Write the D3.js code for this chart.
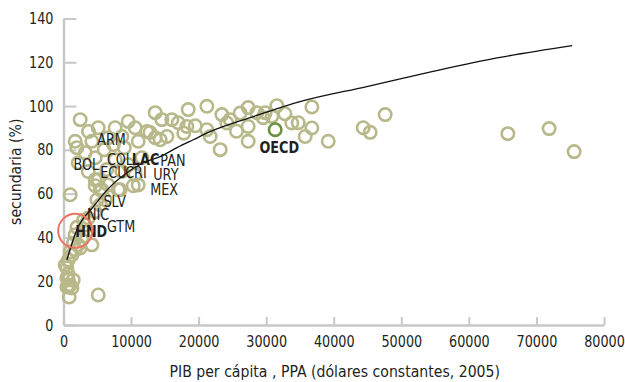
<!DOCTYPE html>
<html>
<head>
<meta charset="utf-8">
<script src="https://cdn.jsdelivr.net/npm/d3@7"></script>
<style>
  body { margin: 0; background: #fff; }
  text { font-family: "DejaVu Sans", sans-serif; }
</style>
</head>
<body>
<script>
const ancho = 625, alto = 382;

// PIB per cápita (USD PPA 2005) y matrícula secundaria (%)
const paisesPib = [840, 990, 500, 1440, 700, 250, 700, 1240, 1730, 2180, 2720, 4200, 5140, 990, 1730, 3210,
  4690, 5680, 6170, 2470, 1730, 3700, 5140, 4200, 6620, 9580, 7650, 10610, 12340, 13570, 14560, 13570,
  11060, 8640, 1980, 3210, 2180, 7650, 11600, 10610, 8640, 3660, 5140, 6620, 11060, 16040, 16980, 18260,
  18460, 21220, 23440, 24670, 26150, 27330, 28620, 27330, 21220, 21710, 23190, 27330, 15300, 14310, 29560,
  24180, 31580, 32770, 30840, 33800, 34740, 36760, 36760, 35770, 39180, 44360, 45390, 47610, 65770, 71880,
  75580, 29850, 4690, 6020, 9580, 8090, 5430, 4690, 3660, 10330, 5430, 4940, 8390, 1980, 1480, 2470,
  990, 500, 500, 1240, 700, 700, 4690, 2960, 7400, 6400, 12800, 17800, 19500, 25600, 9000];
const paisesSec = [12.8, 18.3, 17.4, 20.6, 20.6, 27.4, 29.7, 32, 34.3, 36.6, 38.9, 36.6, 13.7, 59.5, 41.2, 45.7,
  66.3, 61.8, 57.2, 93.8, 83.9, 88.4, 90.1, 83.9, 85.5, 93, 90.1, 90.1, 88.4, 97, 93.8, 85.5,
  83.9, 86.1, 81, 78.7, 74.1, 75.5, 76.4, 68.6, 70.1, 70.1, 66.3, 64, 64, 93.8, 92.4, 90.7,
  98.4, 99.9, 96.1, 93.8, 96.8, 99.3, 97, 90.7, 89.2, 86.1, 80.1, 83.9, 86.1, 84.6, 94.7,
  92.3, 100.2, 96.5, 95.3, 92.3, 92.4, 99.6, 90, 86.1, 83.9, 90.1, 88, 96.1, 87.4, 89.7,
  79.2, 97, 76.4, 80, 73.2, 61.8, 54.9, 51.7, 48.9, 63.6, 61.8, 57.2, 61.8, 44.6, 37.5, 35.2,
  33.4, 26.1, 21.5, 16.9, 17.8, 23.3, 63.6, 47.8, 82.4, 71, 88, 87.6, 91, 88.5, 81];

const oecdPib = [31330], oecdSec = [89.2];
const hndPib = [1730], hndSec = [43];

// curva de tendencia
const tendPib = [500, 1980, 4400, 6900, 9400, 11800, 14300, 16800, 19200, 21700, 28100, 35000, 44900, 54700, 64600, 75300];
const tendSec = [29.7, 43.5, 54, 63.1, 69.5, 74.1, 76.9, 81, 84.6, 88.3, 95.2, 102, 108.9, 115.8, 122.2, 127.6];

const etiquetas = ["ARM", "COL", "LAC", "PAN", "BOL", "ECU", "CRI", "URY", "MEX", "SLV", "NIC", "GTM", "HND", "OECD"];
const etiqX = [4990, 6420, 10120, 14330, 1480, 5430, 9130, 13280, 12830, 5920, 3460, 6420, 1730, 29010];
const etiqY = [82.3, 73.2, 73.2, 72.4, 70.9, 67.1, 67.1, 66.3, 59.5, 54.1, 48, 42.7, 40.4, 78.5];
const etiqNegrita = ["LAC", "HND", "OECD"];

const ticksX = [0, 10000, 20000, 30000, 40000, 50000, 60000, 70000, 80000];
const ticksY = [0, 20, 40, 60, 80, 100, 120, 140];

const svg = d3.select("body").append("svg")
  .attr("width", ancho)
  .attr("height", alto);

const x = d3.scaleLinear().domain([0, 80000]).range([63.5, 604]);
const y = d3.scaleLinear().domain([0, 140]).range([325, 18.5]);

// no hay fuente condensada: se estrecha el texto a mano
function condensar(sel, s, giro) {
  sel.each(function () {
    const t = d3.select(this);
    const tx = +t.attr("x") || 0, ty = +t.attr("y") || 0;
    t.attr("x", 0).attr("y", 0)
      .attr("transform", `translate(${tx},${ty})${giro ? " rotate(" + giro + ")" : ""} scale(${s},1)`);
  });
}

// ejes
const ejeX = svg.append("g")
  .attr("transform", `translate(0,${y(0)})`)
  .call(d3.axisBottom(x).tickValues(ticksX).tickFormat(d3.format("d")).tickSizeInner(-8).tickSizeOuter(0).tickPadding(11));

const ejeY = svg.append("g")
  .attr("transform", `translate(${x(0)},0)`)
  .call(d3.axisLeft(y).tickValues(ticksY).tickSizeInner(-13).tickSizeOuter(0).tickPadding(10));

[ejeX, ejeY].forEach(g => {
  g.select(".domain").attr("stroke", "#c8c8c8").attr("stroke-width", 2.5);
  g.selectAll(".tick line").attr("stroke", "#c8c8c8").attr("stroke-width", 2);
  g.selectAll(".tick text").attr("fill", "#231f20").style("font-size", "16px")
    .call(condensar, 0.8);
});

svg.append("text")
  .attr("x", x(40000) + 1)
  .attr("y", 377)
  .attr("text-anchor", "middle")
  .attr("fill", "#231f20")
  .style("font-size", "16px")
  .text("PIB per cápita , PPA (dólares constantes, 2005)")
  .call(condensar, 0.88);

svg.append("text")
  .attr("x", 21)
  .attr("y", y(70))
  .attr("text-anchor", "middle")
  .attr("fill", "#231f20")
  .style("font-size", "16px")
  .text("secundaria (%)")
  .call(condensar, 0.88, -90);

// puntos
svg.append("g").selectAll("circle")
  .data(d3.range(paisesPib.length))
  .join("circle")
  .attr("cx", i => x(paisesPib[i]))
  .attr("cy", i => y(paisesSec[i]))
  .attr("r", 6.2)
  .attr("fill", "none")
  .attr("stroke", "#b8b88a")
  .attr("stroke-width", 2.6);

svg.append("circle")
  .attr("cx", x(oecdPib[0]))
  .attr("cy", y(oecdSec[0]))
  .attr("r", 6.2)
  .attr("fill", "none")
  .attr("stroke", "#6b9140")
  .attr("stroke-width", 2.6);

// tendencia
svg.append("path")
  .datum(d3.range(tendPib.length))
  .attr("fill", "none")
  .attr("stroke", "#111")
  .attr("stroke-width", 1.3)
  .attr("d", d3.line().x(i => x(tendPib[i])).y(i => y(tendSec[i])).curve(d3.curveMonotoneX));

// etiquetas
svg.append("g").selectAll("text")
  .data(etiquetas)
  .join("text")
  .attr("x", (d, i) => x(etiqX[i]))
  .attr("y", (d, i) => y(etiqY[i]))
  .attr("fill", "#231f20")
  .style("font-size", "16px")
  .style("font-weight", d => etiqNegrita.includes(d) ? "bold" : "normal")
  .text(d => d)
  .call(condensar, 0.8);

svg.append("circle")
  .attr("cx", x(hndPib[0]))
  .attr("cy", y(hndSec[0]))
  .attr("r", 17)
  .attr("fill", "none")
  .attr("stroke", "#ee7362")
  .attr("stroke-width", 2);
</script>
</body>
</html>
